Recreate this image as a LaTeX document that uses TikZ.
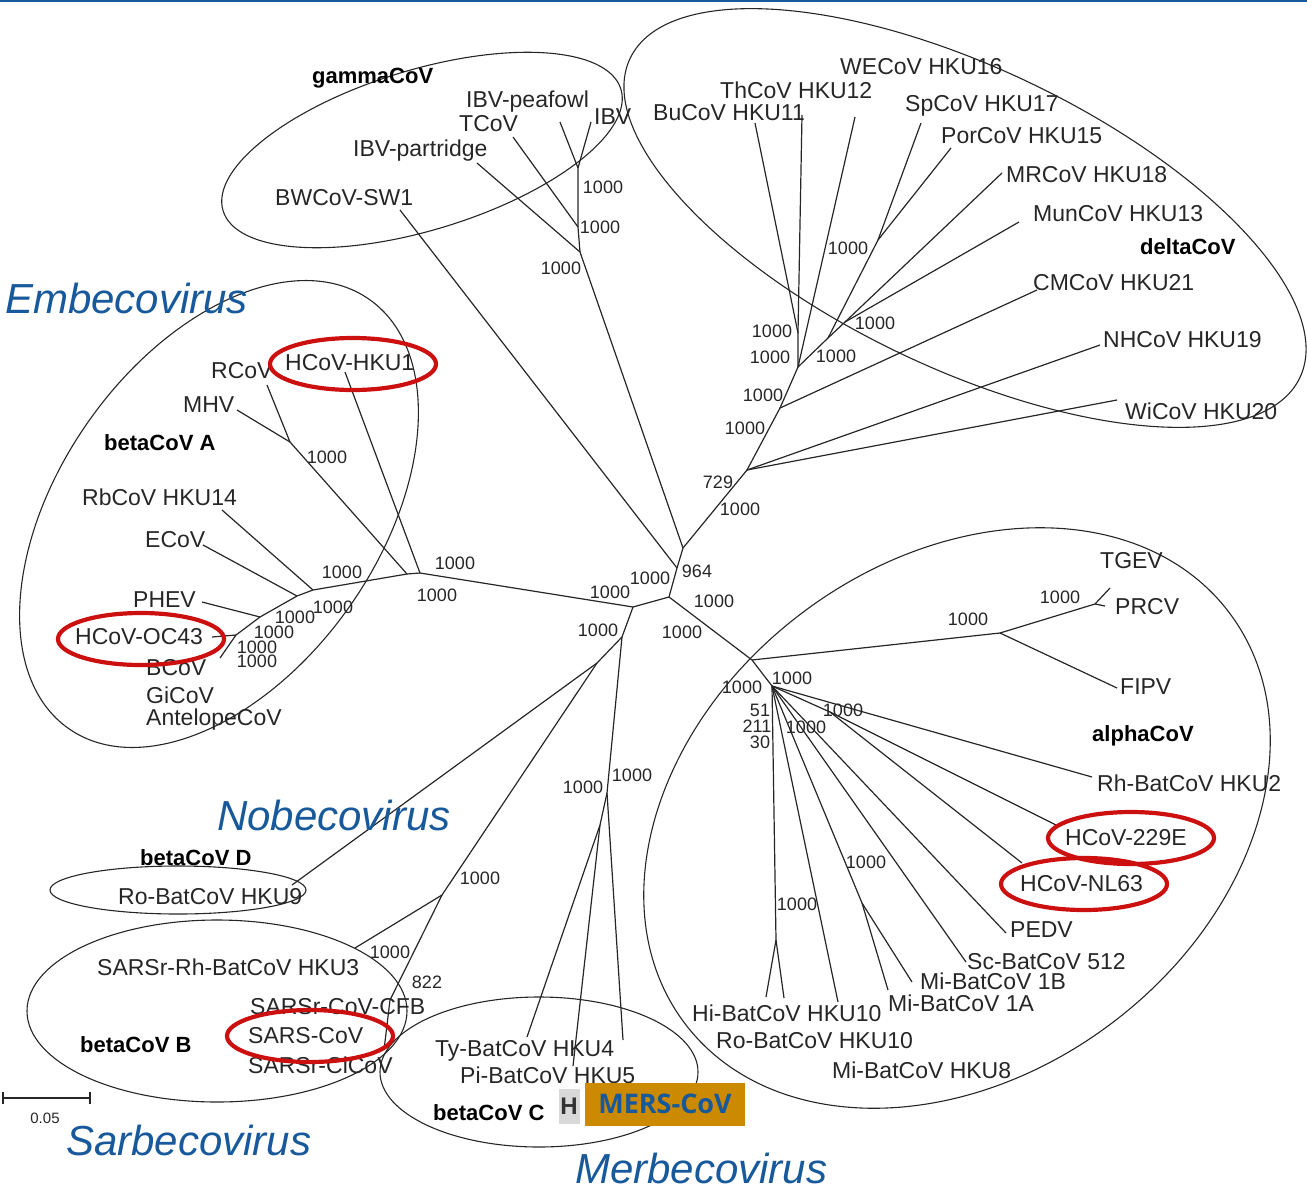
\documentclass[tikz,border=0pt]{standalone}
\usepackage{fontspec}
\setmainfont{Liberation Sans}
\newfontfamily\mersfont{Open Sans}
\usetikzlibrary{shapes.geometric}
\definecolor{cGenus}{HTML}{17599A}
\definecolor{cRed}{HTML}{CC1010}
\definecolor{cMers}{HTML}{CC8A00}
\definecolor{cInk}{HTML}{262626}

\begin{document}
\begin{tikzpicture}[
  x=1pt,y=-1pt,
  br/.style={draw=cInk,line width=1.2pt},
  grp/.style={draw=cInk,line width=1.1pt},
  hv/.style={draw=cRed,line width=4.2pt,ellipse,inner sep=0pt,minimum width=166pt,minimum height=52pt},
  lf/.style={anchor=west,inner sep=0pt,text=cInk,font=\fontsize{23}{25}\selectfont},
  cl/.style={anchor=west,inner sep=0pt,text=black,font=\bfseries\fontsize{22}{24}\selectfont},
  bs/.style={inner sep=0pt,text=cInk,font=\fontsize{18}{20}\selectfont},
  gn/.style={anchor=west,inner sep=0pt,text=cGenus,font=\itshape\fontsize{42}{46}\selectfont}
]
\useasboundingbox (0,0) rectangle (1307,1192);
\draw[cGenus,line width=2.4pt] (0,1.2) -- (1307,1.2);

% ---- clade outlines
\draw[grp,rotate around={17:(422,150)}] (422,150) ellipse [x radius=208,y radius=80];
\draw[grp,rotate around={-25.5:(965,218)}] (965,218) ellipse [x radius=371,y radius=150];
\draw[grp,rotate around={55:(219,514)}] (219,514) ellipse [x radius=262,y radius=160];
\draw[grp,rotate around={37:(957,818)}] (957,818) ellipse [x radius=341,y radius=257];
\draw[grp] (178,890) ellipse [x radius=128,y radius=24];
\draw[grp] (217,1011) ellipse [x radius=190,y radius=91];
\draw[grp] (539,1072) ellipse [x radius=159,y radius=75];

% ---- tree: centre
\coordinate (L) at (633,607);
\coordinate (C) at (669,597);
\coordinate (N964) at (677,568);
\coordinate (Ngd) at (683,548);
\coordinate (M) at (622,637);
\coordinate (S) at (597,663);
% gamma
\coordinate (G0) at (580,252);
\coordinate (G1) at (578,227);
\coordinate (G2) at (578,168);
\coordinate (lPart) at (477,163);
\coordinate (lTCoV) at (513,137);
\coordinate (lPea) at (560,122);
\coordinate (lIBV) at (591,122);
\coordinate (lBW) at (400,210);
% delta
\coordinate (D0) at (747,470);
\coordinate (D1) at (780,408);
\coordinate (D2) at (798,367);
\coordinate (D3) at (798,333);
\coordinate (D4) at (828,338);
\coordinate (D5) at (878,240);
\coordinate (D6) at (845,322);
\coordinate (lNH) at (1100,345);
\coordinate (lWi) at (1117,400);
\coordinate (lCM) at (1037,290);
\coordinate (lBu) at (755,123);
\coordinate (lTh) at (802,115);
\coordinate (lWE) at (855,117);
\coordinate (lSp) at (921,123);
\coordinate (lPor) at (951,148);
\coordinate (lMR) at (1002,173);
\coordinate (lMun) at (1019,222);
% alpha
\coordinate (Aa) at (752,660);
\coordinate (Y) at (772,686);
\coordinate (T1) at (1000,633);
\coordinate (T2) at (1095,604);
\coordinate (lTGEV) at (1110,588);
\coordinate (lPRCV) at (1105,606);
\coordinate (lFIPV) at (1117,688);
\coordinate (lRh2) at (1092,777);
\coordinate (N2) at (830,712);
\coordinate (l229) at (1056,825);
\coordinate (lNL) at (1022,863);
\coordinate (lPED) at (1006,933);
\coordinate (lSc) at (966,962);
\coordinate (N3) at (862,903);
\coordinate (l1A) at (888,990);
\coordinate (l1B) at (912,982);
\coordinate (lH8) at (838,1002);
\coordinate (N4) at (776,940);
\coordinate (lHi) at (766,997);
\coordinate (lRo) at (784,998);
% embeco
\coordinate (E1) at (420,573);
\coordinate (E2) at (407,574);
\coordinate (E3) at (290,442);
\coordinate (B1) at (313,590);
\coordinate (B2) at (297,596);
\coordinate (B3) at (260,617);
\coordinate (B4) at (236,635);
\coordinate (B5) at (220,658);
\coordinate (lHKU1) at (345,372);
\coordinate (lRCoV) at (267,385);
\coordinate (lMHV) at (237,410);
\coordinate (lRb) at (222,510);
\coordinate (lECoV) at (203,545);
\coordinate (lPHEV) at (202,602);
\coordinate (lOC) at (212,637);
% nobeco, sarbeco, merbeco
\coordinate (lH9) at (292,885);
\coordinate (SB1) at (442,895);
\coordinate (lH3) at (355,948);
\coordinate (SB2) at (390,1000);
\coordinate (lCi) at (384,1050);
\coordinate (MB1) at (607,793);
\coordinate (MB2) at (600,825);
\coordinate (lTy) at (527,1037);
\coordinate (lPi) at (573,1066);
\coordinate (lH4) at (623,1040);

% ---- branches
\draw[br] (L) -- (C) -- (N964) -- (Ngd);
\draw[br] (N964) -- (lBW);
\draw[br] (Ngd) -- (G0) -- (lPart);
\draw[br] (G0) -- (G1) -- (lTCoV);
\draw[br] (G1) -- (G2) -- (lPea);
\draw[br] (G2) -- (lIBV);
\draw[br] (Ngd) -- (D0) -- (lNH);
\draw[br] (D0) -- (lWi);
\draw[br] (D0) -- (D1) -- (lCM);
\draw[br] (D1) -- (D2) -- (lWE);
\draw[br] (D2) -- (D3) -- (lBu);
\draw[br] (D3) -- (lTh);
\draw[br] (D2) -- (D4) -- (D5) -- (lSp);
\draw[br] (D5) -- (lPor);
\draw[br] (D4) -- (D6) -- (lMR);
\draw[br] (D6) -- (lMun);
\draw[br] (C) -- (Aa) -- (Y) -- (lRh2);
\draw[br] (Aa) -- (T1) -- (T2) -- (lTGEV);
\draw[br] (T2) -- (lPRCV);
\draw[br] (T1) -- (lFIPV);
\draw[br] (Y) -- (N2) -- (l229);
\draw[br] (N2) -- (lNL);
\draw[br] (Y) -- (lPED);
\draw[br] (Y) -- (lSc);
\draw[br] (Y) -- (N3) -- (l1A);
\draw[br] (N3) -- (l1B);
\draw[br] (Y) -- (lH8);
\draw[br] (Y) -- (N4) -- (lHi);
\draw[br] (N4) -- (lRo);
\draw[br] (L) -- (E1) -- (lHKU1);
\draw[br] (E1) -- (E2) -- (E3) -- (lRCoV);
\draw[br] (E3) -- (lMHV);
\draw[br] (E2) -- (B1) -- (B2) -- (B3) -- (B4) -- (B5);
\draw[br] (B1) -- (lRb);
\draw[br] (B2) -- (lECoV);
\draw[br] (B3) -- (lPHEV);
\draw[br] (B4) -- (lOC);
\draw[br] (L) -- (M) -- (S) -- (lH9);
\draw[br] (S) -- (SB1) -- (lH3);
\draw[br] (SB1) -- (SB2) -- (lCi);
\draw[br] (M) -- (MB1) -- (MB2) -- (lTy);
\draw[br] (MB2) -- (lPi);
\draw[br] (MB1) -- (lH4);

% ---- genus names
\node[gn] (gEmb) at (5,298) {Embecovirus};
\node[gn] (gNob) at (217,815) {Nobecovirus};
\node[gn] (gSar) at (66,1140) {Sarbecovirus};
\node[gn] (gMer) at (575,1168) {Merbecovirus};

% ---- clade names
\node[cl] (cGam) at (312,78) {gammaCoV};
\node[cl] (cDel) at (1140,247) {deltaCoV};
\node[cl] (cBA) at (104,443) {betaCoV A};
\node[cl] (cAlp) at (1092,736) {alphaCoV};
\node[cl] (cBD) at (140,858) {betaCoV D};
\node[cl] (cBB) at (80,1045) {betaCoV B};
\node[cl] (cBC) at (433,1113) {betaCoV C};

% ---- virus names: gamma, delta
\node[lf] (tPea) at (466,102) {IBV-peafowl};
\node[lf] (tTCoV) at (459,124) {TCoV};
\node[lf] (tIBV) at (594,117) {IBV};
\node[lf] (tPart) at (353,151) {IBV-partridge};
\node[lf] (tBW) at (275,198) {BWCoV-SW1};
\node[lf] (tWE) at (840,67) {WECoV HKU16};
\node[lf] (tTh) at (720,90) {ThCoV HKU12};
\node[lf] (tBu) at (653,113) {BuCoV HKU11};
\node[lf] (tSp) at (905,106) {SpCoV HKU17};
\node[lf] (tPor) at (941,136) {PorCoV HKU15};
\node[lf] (tMR) at (1006,175) {MRCoV HKU18};
\node[lf] (tMun) at (1033,214) {MunCoV HKU13};
\node[lf] (tCM) at (1033,283) {CMCoV HKU21};
\node[lf] (tNH) at (1103,340) {NHCoV HKU19};
\node[lf] (tWi) at (1125,411) {WiCoV HKU20};
% embeco
\node[lf] (tRCoV) at (211,371) {RCoV};
\node[lf] (tHKU1) at (285,363) {HCoV-HKU1};
\node[lf] (tMHV) at (183,405) {MHV};
\node[lf] (tRb) at (82,497) {RbCoV HKU14};
\node[lf] (tECoV) at (145,540) {ECoV};
\node[lf] (tPHEV) at (133,600) {PHEV};
\node[lf] (tOC) at (75,637) {HCoV-OC43};
\node[lf] (tBCoV) at (146,668) {BCoV};
\node[lf] (tGi) at (146,695) {GiCoV};
\node[lf] (tAnt) at (146,720) {AntelopeCoV};
% nobeco, sarbeco, merbeco
\node[lf] (tH9) at (118,897) {Ro-BatCoV HKU9};
\node[lf] (tH3) at (97,967) {SARSr-Rh-BatCoV HKU3};
\node[lf] (tCFB) at (250,1007) {SARSr-CoV-CFB};
\node[lf] (tSARS) at (248,1036) {SARS-CoV};
\node[lf] (tCi) at (248,1065) {SARSr-CiCoV};
\node[lf] (tTy) at (435,1051) {Ty-BatCoV HKU4};
\node[lf] (tPi) at (460,1075) {Pi-BatCoV HKU5};
% alpha
\node[lf] (tTGEV) at (1100,561) {TGEV};
\node[lf] (tPRCV) at (1115,607) {PRCV};
\node[lf] (tFIPV) at (1120,687) {FIPV};
\node[lf] (tRh2) at (1097,783) {Rh-BatCoV HKU2};
\node[lf] (t229) at (1065,838) {HCoV-229E};
\node[lf] (tNL) at (1020,884) {HCoV-NL63};
\node[lf] (tPED) at (1010,930) {PEDV};
\node[lf] (tSc) at (967,962) {Sc-BatCoV 512};
\node[lf] (t1B) at (920,981) {Mi-BatCoV 1B};
\node[lf] (t1A) at (888,1003) {Mi-BatCoV 1A};
\node[lf] (tHi) at (692,1013) {Hi-BatCoV HKU10};
\node[lf] (tRo) at (716,1041) {Ro-BatCoV HKU10};
\node[lf] (tH8) at (832,1070) {Mi-BatCoV HKU8};

% ---- bootstrap values
\node[bs] (bG1) at (603,187) {1000};
\node[bs] (bG2) at (600,227) {1000};
\node[bs] (bG3) at (561,268) {1000};
\node[bs] (bD1) at (848,248) {1000};
\node[bs] (bD2) at (772,331) {1000};
\node[bs] (bD3) at (770,357) {1000};
\node[bs] (bD4) at (836,356) {1000};
\node[bs] (bD5) at (875,323) {1000};
\node[bs] (bD6) at (763,395) {1000};
\node[bs] (bD7) at (745,428) {1000};
\node[bs] (bD8) at (718,482) {729};
\node[bs] (bD9) at (740,509) {1000};
\node[bs] (bC1) at (455,563) {1000};
\node[bs] (bC2) at (437,595) {1000};
\node[bs] (bC3) at (610,592) {1000};
\node[bs] (bC4) at (650,578) {1000};
\node[bs] (bC5) at (697,571) {964};
\node[bs] (bC6) at (714,601) {1000};
\node[bs] (bC7) at (598,630) {1000};
\node[bs] (bC8) at (682,632) {1000};
\node[bs] (bE1) at (327,457) {1000};
\node[bs] (bE2) at (342,572) {1000};
\node[bs] (bE3) at (333,607) {1000};
\node[bs] (bE4) at (295,617) {1000};
\node[bs] (bE5) at (274,632) {1000};
\node[bs] (bE6) at (257,647) {1000};
\node[bs] (bE7) at (257,661) {1000};
\node[bs] (bS1) at (480,878) {1000};
\node[bs] (bS2) at (390,952) {1000};
\node[bs] (bS3) at (427,982) {822};
\node[bs] (bM1) at (583,787) {1000};
\node[bs] (bM2) at (632,775) {1000};
\node[bs] (bA1) at (968,619) {1000};
\node[bs] (bA2) at (1060,597) {1000};
\node[bs] (bA3) at (742,687) {1000};
\node[bs] (bA4) at (792,678) {1000};
\node[bs] (bA5) at (760,710) {51};
\node[bs] (bA6) at (757,726) {211};
\node[bs] (bA7) at (760,742) {30};
\node[bs] (bA8) at (843,710) {1000};
\node[bs] (bA9) at (806,727) {1000};
\node[bs] (bA10) at (866,862) {1000};
\node[bs] (bA11) at (797,904) {1000};

% ---- human coronaviruses
\node[hv] (rHKU1) at (353,364) {};
\node[hv] (rOC) at (141,639) {};
\node[hv] (r229) at (1131,838) {};
\node[hv] (rNL) at (1084,884) {};
\node[hv] (rSARS) at (310,1036) {};

% ---- scale bar
\coordinate (sbA) at (3,1098);
\coordinate (sbB) at (90,1098);
\draw[br] (sbA) -- (sbB);
\draw[br] ([yshift=6pt]sbA) -- ([yshift=-6pt]sbA);
\draw[br] ([yshift=6pt]sbB) -- ([yshift=-6pt]sbB);
\node[bs,font=\fontsize{15}{17}\selectfont] (tScale) at (45,1118) {0.05};

% ---- MERS
\node[fill=gray!30,inner sep=0pt,minimum width=21pt,minimum height=35pt,
      text=black!80,font=\bfseries\fontsize{24}{26}\selectfont] (hBox) at (569,1106) {H};
\node[fill=cMers,inner sep=0pt,minimum width=160pt,minimum height=43pt,
      text=cGenus,font=\mersfont\bfseries\fontsize{27}{30}\selectfont] (mers) at (665,1104) {MERS-CoV};
\end{tikzpicture}
\end{document}
